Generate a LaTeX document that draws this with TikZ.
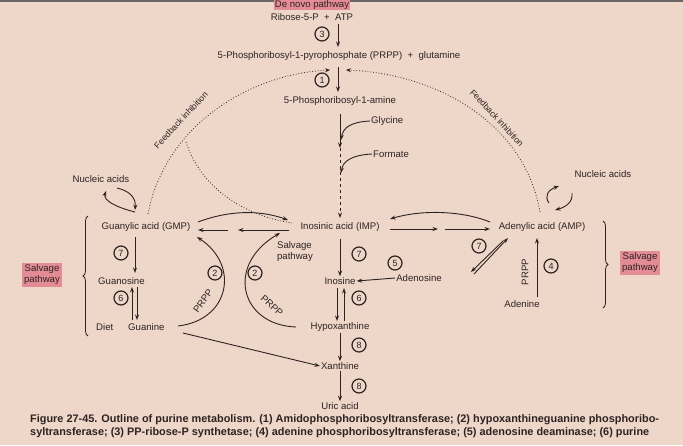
\documentclass[tikz,border=0pt]{standalone}
\usepackage{fontspec}
\setmainfont{Liberation Sans}
\usetikzlibrary{arrows.meta,decorations.pathreplacing}
\definecolor{bg}{RGB}{238,214,200}
\definecolor{ink}{RGB}{45,35,35}
\definecolor{pinkbox}{RGB}{228,140,150}
\begin{document}
\begin{tikzpicture}[x=1pt,y=-1pt,
  every node/.style={text=ink,font=\fontsize{9.6}{11}\selectfont,inner sep=1pt},
  num/.style={circle,draw=ink,line width=1.2pt,inner sep=0pt,minimum size=14pt,font=\fontsize{9}{9}\selectfont},
  pbox/.style={fill=pinkbox,inner sep=2pt,align=center},
  arr/.style={draw=ink,line width=0.9pt,-{Stealth[length=5.5pt,width=4pt]}},
  dots/.style={draw=ink,dotted,line width=0.8pt},
  capt/.style={font=\fontsize{10.9}{12}\bfseries\selectfont,anchor=west,inner sep=0pt}]
\fill[bg] (0,0) rectangle (683,445);
\useasboundingbox (0,0) rectangle (683,445);
\fill[ink!70] (0,0) rectangle (683,1.5);
% top
\node[pbox,inner sep=1pt] (denovo) at (312,5) {De novo pathway};
\node (rib) at (312,17) {Ribose-5-P\ \ +\ \ ATP};
\node (prpp) at (339,56) {5-Phosphoribosyl-1-pyrophosphate (PRPP)\ \ +\ \ glutamine};
\node (amine) at (340,101) {5-Phosphoribosyl-1-amine};
\node[num] (n3) at (322,34) {3};
\node[num] (n1) at (322,80) {1};
\coordinate (a3s) at (338,24); \coordinate (a3e) at (338,47);
\draw[arr] (a3s) -- (a3e);
\coordinate (a1s) at (338,67); \coordinate (a1e) at (338,92);
\draw[arr] (a1s) -- (a1e);
\coordinate (pa) at (340,114); \coordinate (pb) at (340,148);
\coordinate (pd) at (340,218);
\draw[arr] (pa) -- (pb);
\draw[arr,dashed] (pb) -- (pd);
\node[anchor=west] (gly) at (370,121) {Glycine};
\node[anchor=west] (form) at (372,154) {Formate};
\draw[arr] (gly.west) .. controls (350,122) and (343,128) .. (341,140);
\draw[arr] (form.west) .. controls (352,155) and (343,161) .. (341,173);
% feedback arcs
\coordinate (fbL) at (148,214); \coordinate (fbR) at (540,212);
\coordinate (fbTopL) at (330,70); \coordinate (fbTopR) at (346,70);
\draw[dots,-{Stealth[length=5pt,width=4pt]}] (fbL) .. controls (165,125) and (250,74) .. (fbTopL);
\draw[dots,-{Stealth[length=5pt,width=4pt]}] (fbR) .. controls (525,125) and (440,74) .. (fbTopR);
\node[rotate=47,font=\fontsize{8.6}{9}\selectfont] (fbl) at (181,120) {Feedback inhibition};
\node[rotate=-47,font=\fontsize{8.6}{9}\selectfont] (fbr) at (497,118) {Feedback inhibition};
\coordinate (d1) at (186,142); \coordinate (d2) at (292,223);
\draw[dots] (d1) .. controls (200,185) and (240,215) .. (d2);
% main row
\node (gmp) at (146,227) {Guanylic acid (GMP)};
\node (imp) at (340,227) {Inosinic acid (IMP)};
\node (amp) at (542,227) {Adenylic acid (AMP)};
\coordinate (g1) at (198,230); \coordinate (g2) at (228,230);
\coordinate (g3) at (238,230); \coordinate (g4) at (289,230);
\draw[arr] (g2) -- (g1); \draw[arr] (g4) -- (g3);
\draw[arr] (198,222) .. controls (230,210) and (260,210) .. (288,220);
\coordinate (i1) at (390,229); \coordinate (i2) at (438,229);
\coordinate (i3) at (445,229); \coordinate (i4) at (490,229);
\draw[arr] (i1) -- (i2); \draw[arr] (i3) -- (i4);
\draw[arr] (490,222) .. controls (460,210) and (420,210) .. (390,219);
% nucleic acids
\node (nucL) at (101,179) {Nucleic acids};
\draw[arr] (135,212) .. controls (115,207) and (103,200) .. (106,191);
\draw[arr] (117,188) .. controls (130,191) and (136,198) .. (135,210);
\node (nucR) at (603,174) {Nucleic acids};
\draw[arr] (549,203) .. controls (544,196) and (548,190) .. (559,186);
\draw[arr] (572,193) .. controls (573,202) and (566,207) .. (555,210);
% left column
\node[anchor=west] (guo) at (97,281) {Guanosine};
\node[anchor=west] (diet) at (95,327) {Diet};
\node[anchor=west] (gua) at (127,327) {Guanine};
\node[num] (n7a) at (121,253) {7};
\node[num] (n6a) at (121,298) {6};
\draw[arr] (135,237) -- (135,273);
\draw[arr] (132,320) -- (132,287);
\draw[arr] (137,287) -- (137,320);
\draw[decorate,decoration={brace,amplitude=5pt},draw=ink,line width=0.8pt] (88,336) -- (88,216);
\node[pbox] (salL) at (42,275) {Salvage\\pathway};
% PRPP curves
\draw[arr] (178,326) .. controls (230,320) and (240,265) .. (197,237);
\node[num] (n2a) at (215,273) {2};
\node[rotate=55] (prl) at (203,301) {PRPP};
\draw[arr] (296,327) .. controls (240,325) and (225,265) .. (280,233);
\node[num] (n2b) at (255,273) {2};
\node[rotate=-42] (prr) at (272,306) {PRPP};
\node[align=left] (salM) at (295,252) {Salvage\\pathway};
% middle column
\node (ino) at (340,281) {Inosine};
\node (hyp) at (340,327) {Hypoxanthine};
\node (xan) at (340,366) {Xanthine};
\node (uric) at (340,406) {Uric acid};
\node[num] (n7b) at (359,254) {7};
\node[num] (n6b) at (359,298) {6};
\node[num] (n8a) at (359,345) {8};
\node[num] (n8b) at (359,386) {8};
\draw[arr] (340,239) -- (ino);
\draw[arr] (337,288) -- (337,321);
\draw[arr] (344,321) -- (344,288);
\draw[arr] (hyp) -- (xan);
\draw[arr] (xan) -- (uric);
\draw[arr] (183,333) -- (xan.west);
% right side
\node (ado) at (419,278) {Adenosine};
\node[num] (n5) at (395,263) {5};
\draw[arr] (ado.west) -- (ino.east);
\draw[arr] (503,241) -- (471,272);
\draw[arr] (474,274) -- (508,238);
\node[num] (n7c) at (479,246) {7};
\node (ade) at (522,304) {Adenine};
\draw[arr] (537,297) -- (537,238);
\node[rotate=90] (prv) at (525,272) {PRPP};
\node[num] (n4) at (551,266) {4};
\draw[decorate,decoration={brace,amplitude=5pt},draw=ink,line width=0.8pt] (603,221) -- (603,308);
\node[pbox] (salR) at (640,263) {Salvage\\pathway};
% caption
\node[capt] (cap1) at (30,420) {Figure 27-45. Outline of purine metabolism. (1) Amidophosphoribosyltransferase; (2) hypoxanthineguanine phosphoribo-};
\node[capt] (cap2) at (30,433) {syltransferase; (3) PP-ribose-P synthetase; (4) adenine phosphoribosyltransferase; (5) adenosine deaminase; (6) purine};
\end{tikzpicture}
\end{document}
